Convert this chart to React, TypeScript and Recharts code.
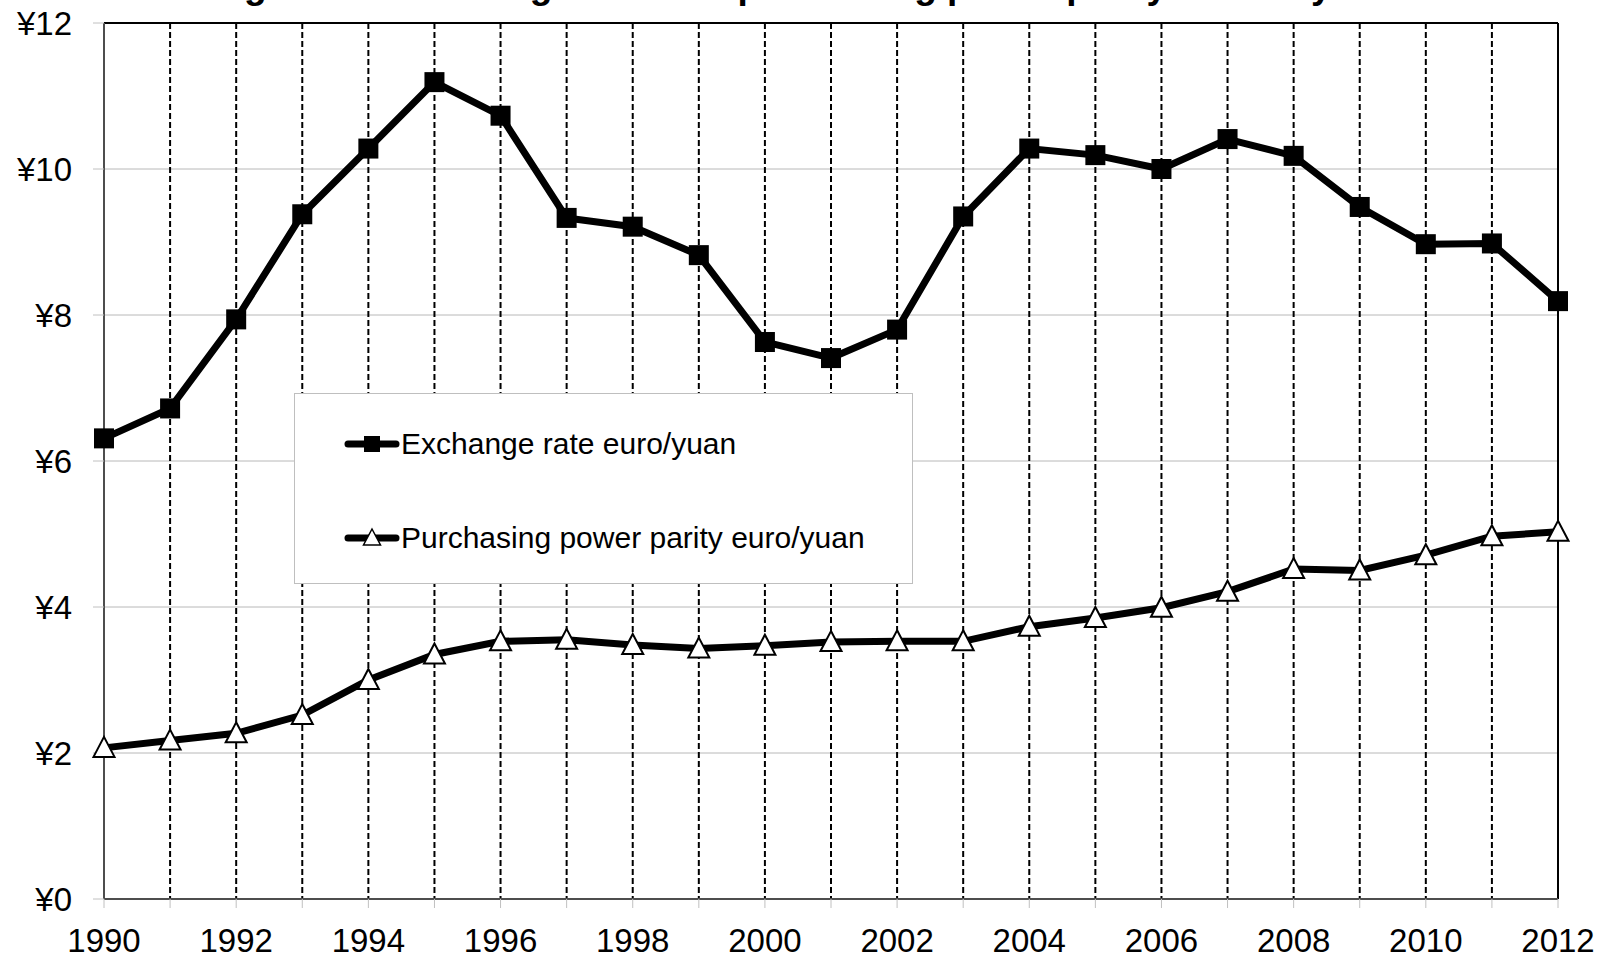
import { CartesianGrid, Legend, Line, LineChart, ReferenceLine, XAxis, YAxis } from 'recharts'

const years = [
  1990, 1991, 1992, 1993, 1994, 1995, 1996, 1997, 1998, 1999, 2000, 2001,
  2002, 2003, 2004, 2005, 2006, 2007, 2008, 2009, 2010, 2011, 2012,
]

const exchangeRate = [
  6.31, 6.72, 7.94, 9.38, 10.28, 11.19, 10.73, 9.33, 9.21, 8.82, 7.63, 7.41,
  7.8, 9.35, 10.28, 10.19, 10.0, 10.41, 10.18, 9.48, 8.97, 8.98, 8.19,
]

const purchasingPower = [
  2.07, 2.17, 2.27, 2.52, 3.0, 3.35, 3.53, 3.55, 3.48, 3.43, 3.47, 3.52,
  3.53, 3.53, 3.73, 3.85, 3.99, 4.21, 4.52, 4.5, 4.71, 4.97, 5.03,
]

const yTicks = [0, 2, 4, 6, 8, 10, 12]

// only the descenders of the title survive at the top edge
const chartTitle = 'Figure 10: Exchange rate and purchasing power parity in euro/yuan'

const data = years.map((year, i) => ({
  year,
  exchange: exchangeRate[i],
  ppp: purchasingPower[i],
}))

const FONT = '"Liberation Sans", Arial, sans-serif'

function SquareDot(props: any) {
  const { cx, cy, index } = props
  if (cx == null || cy == null) return <g key={`sq-${index}`} />
  return <rect key={`sq-${index}`} x={cx - 10} y={cy - 10} width={20} height={20} fill="#000" />
}

function TriangleDot(props: any) {
  const { cx, cy, index } = props
  if (cx == null || cy == null) return <g key={`tr-${index}`} />
  return (
    <polygon
      key={`tr-${index}`}
      points={`${cx},${cy - 11} ${cx + 10.5},${cy + 9} ${cx - 10.5},${cy + 9}`}
      fill="#fff"
      stroke="#000"
      strokeWidth={2}
    />
  )
}

function LegendIcon({ kind }: { kind: string }) {
  return (
    <svg width={56} height={24} style={{ display: 'block' }}>
      <line x1={4} y1={12} x2={52} y2={12} stroke="#000" strokeWidth={7} strokeLinecap="round" />
      {kind === 'exchange' ? (
        <rect x={20} y={4} width={16} height={16} fill="#000" />
      ) : (
        <polygon points="28,3 36.5,19 19.5,19" fill="#fff" stroke="#000" strokeWidth={1.5} />
      )}
    </svg>
  )
}

function LegendBox(props: any) {
  const payload = props.payload ?? []
  const rowCenters = [50, 144]
  return (
    <div
      style={{
        width: '100%',
        height: '100%',
        boxSizing: 'border-box',
        border: '1px solid #bfbfbf',
        background: '#fff',
        position: 'relative',
      }}
    >
      {payload.map((entry: any, i: number) => (
        <div
          key={entry.value}
          style={{
            position: 'absolute',
            left: 49,
            top: rowCenters[i] - 20,
            height: 40,
            display: 'flex',
            alignItems: 'center',
            whiteSpace: 'nowrap',
          }}
        >
          <LegendIcon kind={entry.dataKey} />
          <span style={{ fontSize: 30, color: '#000', marginLeft: 1 }}>{entry.value}</span>
        </div>
      ))}
    </div>
  )
}

export default function App() {
  return (
    <div style={{ position: 'absolute', left: 0, top: 0, width: 1610, height: 961, fontFamily: FONT, background: '#fff' }}>
      <LineChart width={1610} height={961} data={data} margin={{ top: 23, right: 52, left: 0, bottom: 0 }}>
        <CartesianGrid vertical={false} stroke="#b8b8b8" strokeWidth={1} />
        <CartesianGrid horizontal={false} stroke="#000" strokeWidth={2} strokeDasharray="6 3" />
        <XAxis
          dataKey="year"
          type="number"
          domain={[1990, 2012]}
          ticks={years}
          interval={0}
          height={62}
          tickSize={9}
          tickMargin={21}
          tickLine={{ stroke: '#c0c0c0', strokeWidth: 1 }}
          axisLine={{ stroke: '#4d4d4d', strokeWidth: 2 }}
          tick={{ fill: '#000', fontSize: 33, fontFamily: FONT }}
          tickFormatter={(v: number) => (v % 2 === 0 ? String(v) : '')}
        />
        <YAxis
          type="number"
          domain={[0, 12]}
          ticks={yTicks}
          width={104}
          tickSize={11}
          tickMargin={21}
          tickLine={{ stroke: '#c0c0c0', strokeWidth: 1 }}
          axisLine={{ stroke: '#4d4d4d', strokeWidth: 2 }}
          tick={{ fill: '#000', fontSize: 33, fontFamily: FONT }}
          tickFormatter={(v: number) => `¥${v}`}
        />
        <ReferenceLine y={12} stroke="#000" strokeWidth={2} />
        <ReferenceLine x={2012} stroke="#000" strokeWidth={2} />
        <Legend
          layout="vertical"
          align="center"
          verticalAlign="middle"
          content={<LegendBox />}
          wrapperStyle={{ left: 294, top: 393, width: 619, height: 191 }}
        />
        <Line
          dataKey="exchange"
          name="Exchange rate euro/yuan"
          stroke="#000"
          strokeWidth={7}
          dot={SquareDot}
          activeDot={false}
          isAnimationActive={false}
        />
        <Line
          dataKey="ppp"
          name="Purchasing power parity euro/yuan"
          stroke="#000"
          strokeWidth={7}
          dot={TriangleDot}
          activeDot={false}
          isAnimationActive={false}
        />
      </LineChart>
      <svg width={1610} height={20} style={{ position: 'absolute', left: 0, top: 0 }}>
        <text x={211} y={-2} fontSize={37} fontWeight="bold" fontFamily={FONT} fill="#000">
          {chartTitle}
        </text>
      </svg>
    </div>
  )
}
